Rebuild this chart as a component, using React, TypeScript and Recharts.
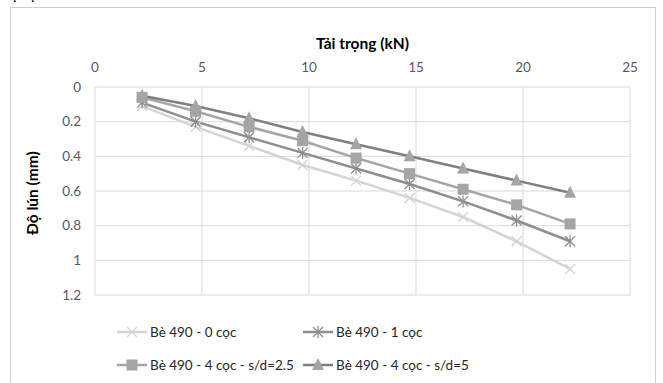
import React from 'react'
import { LineChart, Line, XAxis, YAxis, CartesianGrid } from 'recharts'

const taiTrong = [2.2, 4.7, 7.2, 9.7, 12.2, 14.7, 17.2, 19.7, 22.2]
const coc0 = [0.11, 0.23, 0.34, 0.45, 0.54, 0.64, 0.75, 0.89, 1.05]
const coc1 = [0.09, 0.2, 0.29, 0.38, 0.47, 0.56, 0.66, 0.77, 0.89]
const coc4sd25 = [0.06, 0.14, 0.23, 0.31, 0.41, 0.5, 0.59, 0.68, 0.79]
const coc4sd5 = [0.05, 0.11, 0.18, 0.26, 0.33, 0.4, 0.47, 0.54, 0.61]
const xTicks = [0, 5, 10, 15, 20, 25]
const yTicks = [0, 0.2, 0.4, 0.6, 0.8, 1, 1.2]

const data = taiTrong.map((t, i) => ({
  t,
  c0: coc0[i],
  c1: coc1[i],
  c25: coc4sd25[i],
  c5: coc4sd5[i]
}))

const FONT = 'Lato, "Open Sans", sans-serif'

type MarkerKind = 'x' | 'star' | 'square' | 'triangle'

function Marker({ kind, cx, cy, color }: { kind: MarkerKind; cx: number; cy: number; color: string }) {
  if (kind === 'x') {
    const r = 5
    return (
      <g stroke={color} strokeWidth={1.3}>
        <line x1={cx - r} y1={cy - r} x2={cx + r} y2={cy + r} />
        <line x1={cx - r} y1={cy + r} x2={cx + r} y2={cy - r} />
      </g>
    )
  }
  if (kind === 'star') {
    const r = 5
    return (
      <g stroke={color} strokeWidth={1.3}>
        <line x1={cx - r} y1={cy - r} x2={cx + r} y2={cy + r} />
        <line x1={cx - r} y1={cy + r} x2={cx + r} y2={cy - r} />
        <line x1={cx} y1={cy - r - 1} x2={cx} y2={cy + r + 1} />
      </g>
    )
  }
  if (kind === 'square') {
    const s = 5.5
    return <rect x={cx - s} y={cy - s} width={s * 2} height={s * 2} fill={color} />
  }
  const h = 6
  return <polygon points={`${cx},${cy - h - 1} ${cx + h},${cy + h - 1} ${cx - h},${cy + h - 1}`} fill={color} />
}

const SERIES: { key: string; name: string; line: string; mark: string; kind: MarkerKind }[] = [
  { key: 'c0', name: 'Bè 490 - 0 cọc', line: '#d4d4d4', mark: '#d4d4d4', kind: 'x' },
  { key: 'c1', name: 'Bè 490 - 1 cọc', line: '#8e8e8e', mark: '#8e8e8e', kind: 'star' },
  { key: 'c25', name: 'Bè 490 - 4 cọc - s/d=2.5', line: '#a5a5a5', mark: '#a5a5a5', kind: 'square' },
  { key: 'c5', name: 'Bè 490 - 4 cọc - s/d=5', line: '#7f7f7f', mark: '#a5a5a5', kind: 'triangle' }
]

function LegendItem({ s }: { s: (typeof SERIES)[number] }) {
  return (
    <div style={{ display: 'flex', alignItems: 'center', whiteSpace: 'nowrap' }}>
      <svg width={32} height={14} style={{ marginRight: 2 }}>
        <line x1={1} y1={7} x2={31} y2={7} stroke={s.line} strokeWidth={2.5} />
        <Marker kind={s.kind} cx={16} cy={7} color={s.mark} />
      </svg>
      <span>{s.name}</span>
    </div>
  )
}

export default function App() {
  return (
    <div style={{ position: 'absolute', left: 0, top: 0, width: 663, height: 383, overflow: 'hidden', background: '#fff', fontFamily: FONT }}>
      <div style={{ position: 'absolute', left: 0, top: -14, fontSize: 14, fontWeight: 700, color: '#000' }}>Độ cọc.</div>
      <div style={{ position: 'absolute', left: 10, top: 7, width: 644, height: 400, border: '1px solid #d0d0d0' }} />
      <LineChart
        width={663}
        height={383}
        data={data}
        margin={{ top: 50, right: 33, left: 0, bottom: 88 }}
        style={{ position: 'absolute', left: 0, top: 0 }}
      >
        <CartesianGrid stroke="#d9d9d9" strokeWidth={1} />
        <XAxis
          type="number"
          dataKey="t"
          orientation="top"
          domain={[0, 25]}
          ticks={xTicks}
          height={37}
          axisLine={false}
          tickLine={false}
          tick={{ fill: '#595959', fontSize: 13.5, fontFamily: FONT }}
          tickMargin={9}
          label={{ value: 'Tải trọng (kN)', position: 'top', offset: 1, fill: '#000', fontSize: 15.5, fontWeight: 700, fontFamily: FONT }}
        />
        <YAxis
          type="number"
          reversed
          domain={[0, 1.2]}
          ticks={yTicks}
          width={95}
          axisLine={false}
          tickLine={false}
          tick={{ fill: '#595959', fontSize: 13.5, fontFamily: FONT }}
          tickMargin={8}
          label={{ value: 'Độ lún (mm)', angle: -90, position: 'insideLeft', offset: 32, dy: 44, fill: '#000', fontSize: 15.5, fontWeight: 700, fontFamily: FONT }}
        />
        {SERIES.map((s) => (
          <Line
            key={s.key}
            type="linear"
            dataKey={s.key}
            name={s.name}
            stroke={s.line}
            strokeWidth={2.5}
            isAnimationActive={false}
            dot={(p: any) => <Marker key={`${s.key}-${p.index}`} kind={s.kind} cx={p.cx} cy={p.cy} color={s.mark} />}
            activeDot={false}
          />
        ))}
      </LineChart>
      <div
        style={{
          position: 'absolute',
          left: 116,
          top: 324,
          display: 'grid',
          gridTemplateColumns: '186px auto',
          rowGap: 17,
          fontSize: 13.5,
          color: '#262626'
        }}
      >
        {SERIES.map((s) => (
          <LegendItem key={s.key} s={s} />
        ))}
      </div>
    </div>
  )
}
